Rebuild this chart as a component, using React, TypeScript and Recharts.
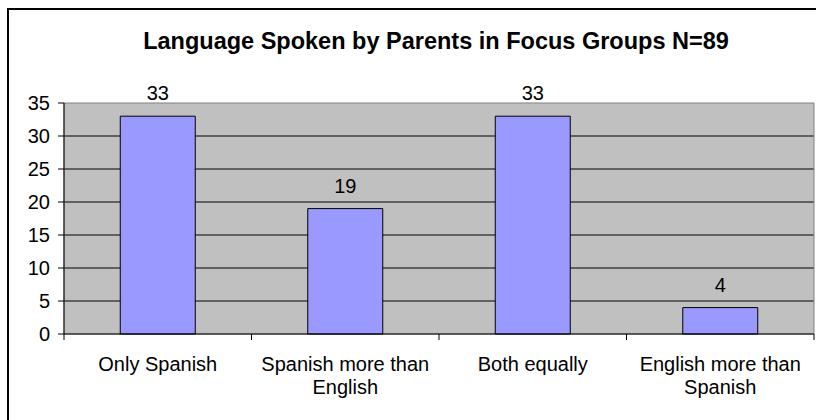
import React from 'react';
import { BarChart, Bar, XAxis, YAxis, CartesianGrid, LabelList, ReferenceArea, Text } from 'recharts';

const categories = ['Only Spanish', 'Spanish more than English', 'Both equally', 'English more than Spanish'];
const counts = [33, 19, 33, 4];
const yTicks = [0, 5, 10, 15, 20, 25, 30, 35];
const gridValues = [5, 10, 15, 20, 25, 30];
const title = 'Language Spoken by Parents in Focus Groups N=89';

const data = categories.map((name, i) => ({ name, value: counts[i] }));

const FONT = '"Liberation Sans", Arial, sans-serif';
const TICK_LEN = 6;
const LABEL_GAP = 23;

const CatTick = (props: any) => {
  const { x, y, payload, index } = props;
  const half = payload && payload.offset ? payload.offset : 0;
  const isLast = index === categories.length - 1;
  return (
    <g>
      <line x1={x - half} x2={x - half} y1={y} y2={y + TICK_LEN} stroke="#000" strokeWidth={1} />
      {isLast && <line x1={x + half} x2={x + half} y1={y} y2={y + TICK_LEN} stroke="#000" strokeWidth={1} />}
      <Text
        x={x}
        y={y + LABEL_GAP}
        width={170}
        textAnchor="middle"
        verticalAnchor="start"
        fontSize={20}
        fontFamily={FONT}
        style={{ fontSize: 20, fontFamily: FONT }}
        fill="#000"
        lineHeight={23}
      >
        {payload.value}
      </Text>
    </g>
  );
};

export default function App() {
  return (
    <div style={{ position: 'absolute', left: 0, top: 0, width: 816, height: 420, overflow: 'hidden', background: '#fff' }}>
      <div style={{ position: 'absolute', left: 7, top: 8, width: 1000, height: 1000, borderLeft: '2px solid #000', borderTop: '2px solid #000' }} />
      <div
        style={{
          position: 'absolute',
          left: 0,
          top: 28,
          width: 872,
          textAlign: 'center',
          fontFamily: FONT,
          fontWeight: 'bold',
          fontSize: 23.5,
          color: '#000',
          whiteSpace: 'nowrap',
        }}
      >
        {title}
      </div>
      <div style={{ position: 'absolute', left: 0, top: 0 }}>
        <BarChart
          width={816}
          height={420}
          data={data}
          margin={{ top: 103, right: 2, bottom: 6, left: 0 }}
          barCategoryGap="30%"
        >
          <CartesianGrid
            vertical={false}
            horizontalValues={gridValues}
            stroke="#000"
            strokeWidth={1}
            fill="#C0C0C0"
            fillOpacity={1}
          />
          <ReferenceArea y1={0} y2={35} stroke="#808080" strokeWidth={1} fill="none" fillOpacity={0} />
          <XAxis
            dataKey="name"
            height={80}
            axisLine={{ stroke: '#000', strokeWidth: 1 }}
            tickLine={false}
            tickSize={0}
            tickMargin={0}
            tick={(p: any) => <CatTick {...p} />}
            interval={0}
          />
          <YAxis
            domain={[0, 35]}
            ticks={yTicks}
            width={64}
            axisLine={{ stroke: '#000', strokeWidth: 1 }}
            tickLine={{ stroke: '#000', strokeWidth: 1 }}
            tickSize={6}
            tickMargin={8}
            tick={{ fontSize: 20, fontFamily: FONT, fill: '#000' }}
            interval={0}
          />
          <Bar dataKey="value" fill="#9999FF" stroke="#000" strokeWidth={1} isAnimationActive={false}>
            <LabelList dataKey="value" position="top" offset={16} fontSize={20} fontFamily={FONT} fill="#000" />
          </Bar>
        </BarChart>
      </div>
    </div>
  );
}
